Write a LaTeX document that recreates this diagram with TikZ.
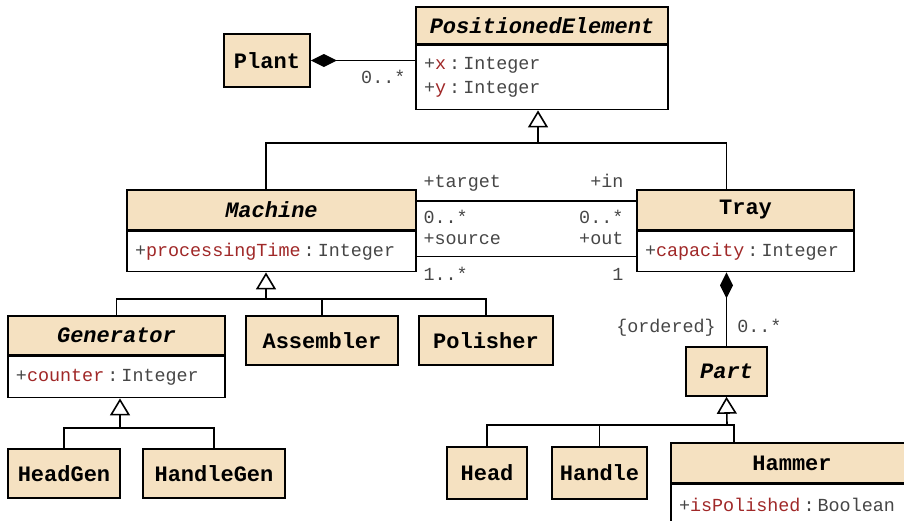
\documentclass[tikz,border=0pt]{standalone}
\usepackage{fontspec}
\setmonofont{Liberation Mono}
\usetikzlibrary{positioning,arrows.meta,calc}
\definecolor{classfill}{RGB}{245,225,193}
\definecolor{attrname}{RGB}{160,40,40}
\definecolor{attrtype}{RGB}{70,70,70}
\newcommand{\umlattr}[2]{+\textcolor{attrname}{#1}\,:\,#2}
\tikzset{%
  classh/.style={draw,line width=0.8pt,fill=classfill,inner sep=0pt,%
    font=\ttfamily\bfseries\fontsize{11}{13}\selectfont},
  abstract/.style={font=\ttfamily\bfseries\itshape\fontsize{11}{13}\selectfont},
  classa/.style={draw,line width=0.8pt,fill=white,inner xsep=4pt,inner ysep=0pt,%
    align=left,text=attrtype,font=\ttfamily\fontsize{9.2}{12}\selectfont},
  mult/.style={inner sep=0pt,text=attrtype,font=\ttfamily\fontsize{9.2}{12}\selectfont},
  conn/.style={line width=0.8pt},
  gen/.style={conn,-{Triangle[open,width=10pt,length=8.5pt,fill=white]}},
  comp/.style={conn,{Diamond[width=6.5pt,length=13pt]}-}
}
\begin{document}
\begin{tikzpicture}[x=0.5pt,y=-0.5pt]
	\useasboundingbox (0,0) rectangle (904,520);
	% classes
	\node[classh,abstract,minimum width=126pt,minimum height=18.5pt] (pe-h) at (542,25.5) {PositionedElement};
	\node[classa,below=0pt of pe-h,minimum width=126pt,minimum height=32pt,text width=118pt] (pe-a)
		{\umlattr{x}{Integer}\\\umlattr{y}{Integer}};
	\node[classh,minimum width=43pt,minimum height=26.5pt] (plant) at (267,60.5) {Plant};
	\node[classh,abstract,minimum width=144.5pt,minimum height=20pt] (machine-h) at (271.5,210) {Machine};
	\node[classa,below=0pt of machine-h,minimum width=144.5pt,minimum height=20pt,text width=136.5pt] (machine-a)
		{\umlattr{processingTime}{Integer}};
	\node[classh,minimum width=108.5pt,minimum height=20pt] (tray-h) at (745.5,210) {Tray};
	\node[classa,below=0pt of tray-h,minimum width=108.5pt,minimum height=20pt,text width=100.5pt] (tray-a)
		{\umlattr{capacity}{Integer}};
	\node[classh,abstract,minimum width=108.5pt,minimum height=19.5pt] (generator-h) at (116.5,335.5) {Generator};
	\node[classa,below=0pt of generator-h,minimum width=108.5pt,minimum height=20.5pt,text width=100.5pt] (generator-a)
		{\umlattr{counter}{Integer}};
	\node[classh,minimum width=76pt,minimum height=24.5pt] (assembler) at (322,340.5) {Assembler};
	\node[classh,minimum width=67pt,minimum height=24.5pt] (polisher) at (486,340.5) {Polisher};
	\node[classh,minimum width=56pt,minimum height=24.5pt] (headgen) at (64,473.5) {HeadGen};
	\node[classh,minimum width=71pt,minimum height=24.5pt] (handlegen) at (214,473.5) {HandleGen};
	\node[classh,abstract,minimum width=40.5pt,minimum height=24.5pt] (part) at (726.5,371.5) {Part};
	\node[classh,minimum width=40pt,minimum height=26pt] (head) at (487,473) {Head};
	\node[classh,minimum width=47.5pt,minimum height=26pt] (handle) at (599.5,473) {Handle};
	\node[classh,minimum width=121pt,minimum height=20pt] (hammer-h) at (792,463) {Hammer};
	\node[classa,below=0pt of hammer-h,minimum width=121pt,minimum height=20pt,text width=113pt] (hammer-a)
		{\umlattr{isPolished}{Boolean}};
	% generalizations
	\coordinate (pebus) at (538,143);
	\coordinate (mbus) at (266,299);
	\coordinate (gbus) at (120,428);
	\coordinate (pbus) at (727,425);
	\draw[gen] (pebus) -- (pe-a.south -| pebus);
	\draw[conn] (machine-h.north -| mbus) |- (pebus);
	\draw[conn] (tray-h.north -| part.north) |- (pebus);
	\draw[gen] (mbus) -- (machine-a.south -| mbus);
	\draw[conn] (generator-h.north) |- (mbus);
	\draw[conn] (assembler.north) |- (mbus);
	\draw[conn] (polisher.north) |- (mbus);
	\draw[gen] (gbus) -- (generator-a.south -| gbus);
	\draw[conn] (headgen.north) |- (gbus);
	\draw[conn] (handlegen.north) |- (gbus);
	\draw[gen] (pbus) -- (part.south);
	\draw[conn] (head.north) |- (pbus);
	\draw[conn] (handle.north) |- (pbus);
	\draw[conn] ([xshift=32pt]hammer-h.north west) |- (pbus);
	% compositions
	\draw[comp] (plant.east) -- (plant.east -| pe-a.west)
		node[mult,pos=1,anchor=east,xshift=-4.5pt,yshift=-8pt] {0..*};
	\draw[comp] (tray-a.south -| part.north) -- (part.north)
		node[mult,pos=1,anchor=base east,xshift=-5pt,yshift=7pt] {\{ordered\}}
		node[mult,pos=1,anchor=base west,xshift=5pt,yshift=7pt] {0..*};
	% associations
	\draw[conn] ([yshift=4.5pt]machine-h.east) -- ([yshift=4.5pt]tray-h.west)
		node[mult,pos=0,anchor=base west,xshift=3pt,yshift=7pt] {+target}
		node[mult,pos=0,anchor=base west,xshift=3pt,yshift=-11.25pt] {0..*}
		node[mult,pos=1,anchor=base east,xshift=-6pt,yshift=7pt] {+in}
		node[mult,pos=1,anchor=base east,xshift=-6pt,yshift=-11.25pt] {0..*};
	\draw[conn] ([yshift=-2.5pt]machine-a.east) -- ([yshift=-2.5pt]tray-a.west)
		node[mult,pos=0,anchor=base west,xshift=3pt,yshift=6pt] {+source}
		node[mult,pos=0,anchor=base west,xshift=3pt,yshift=-11.75pt] {1..*}
		node[mult,pos=1,anchor=base east,xshift=-6pt,yshift=6pt] {+out}
		node[mult,pos=1,anchor=base east,xshift=-6pt,yshift=-11.75pt] {1};
\end{tikzpicture}
\end{document}
